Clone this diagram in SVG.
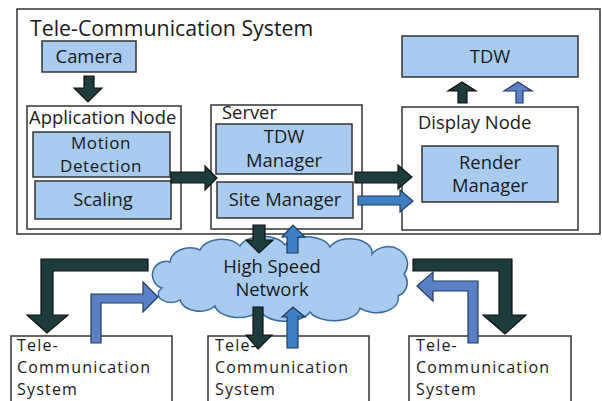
<svg xmlns="http://www.w3.org/2000/svg" width="602" height="401" viewBox="0 0 602 401">
<style>
text{font-family:"Open Sans","Liberation Sans",sans-serif;fill:#1a1a1a;font-size:18.4px}
.c{text-anchor:middle}
.sm{font-size:16px;letter-spacing:1.2px}
.md{font-size:17px;letter-spacing:0.6px}
.box{fill:#fff;stroke:#333;stroke-width:1.5}
.blue{fill:#a8cbef;stroke:#333;stroke-width:1.5}
.dk{fill:#1e3c3c;stroke:#111;stroke-width:1.2}
.bl{fill:#3f7fc4;stroke:#1e3c5c;stroke-width:1.2}
.pb{fill:#5b7fc4;stroke:#1e3c5c;stroke-width:1.2}
</style>
<rect width="602" height="401" fill="#fff"/>
<g id="tcs-main">
<rect class="box" x="17" y="9" width="583" height="225"/>
<text x="30" y="36" style="font-size:21.3px">Tele-Communication System</text>
</g>
<g id="camera">
<rect class="blue" x="42" y="41" width="94" height="31"/>
<text class="c" x="89" y="63">Camera</text>
</g>
<g id="app-node">
<rect class="box" x="27" y="106" width="154" height="123"/>
<text x="29" y="124">Application Node</text>
</g>
<g id="motion">
<rect class="blue" x="33" y="132" width="137" height="45"/>
<text class="c md" x="101" y="149">Motion</text>
<text class="c md" x="101" y="172">Detection</text>
</g>
<g id="scaling">
<rect class="blue" x="35" y="181" width="136" height="38"/>
<text class="c" x="103" y="206">Scaling</text>
</g>
<g id="server">
<rect class="box" x="211" y="105" width="151" height="124"/>
<text x="222" y="119">Server</text>
</g>
<g id="tdw-manager">
<rect class="blue" x="216" y="124" width="136" height="50"/>
<text class="c" x="284" y="143">TDW</text>
<text class="c" x="284" y="167">Manager</text>
</g>
<g id="site-manager">
<rect class="blue" x="217" y="182" width="136" height="36"/>
<text class="c" x="285" y="206">Site Manager</text>
</g>
<g id="display-node">
<rect class="box" x="402" y="107" width="176" height="123"/>
<text x="418" y="129">Display Node</text>
</g>
<g id="render-manager">
<rect class="blue" x="422" y="146" width="136" height="56"/>
<text class="c" x="490" y="169">Render</text>
<text class="c" x="490" y="192">Manager</text>
</g>
<g id="tdw">
<rect class="blue" x="402" y="36" width="176" height="41"/>
<text class="c" x="490" y="63">TDW</text>
</g>
<g id="network">
<path d="M162,288 A12,12 0 0 1 170,262 A20,16 0 0 1 200,250 A22,14 0 0 1 240,246 A24,14 0 0 1 285,245 A24,14 0 0 1 330,247 A22,14 0 0 1 372,254 A18,16 0 0 1 404,274 A14,14 0 0 1 398,296 A22,14 0 0 1 360,308 A26,14 0 0 1 310,312 A26,14 0 0 1 260,310 A24,14 0 0 1 215,306 A20,14 0 0 1 180,300 A12,8 0 0 1 162,288 Z" fill="#a8cbef" stroke="#3a6a9e" stroke-width="1.5"/>
<text class="c" x="272" y="273">High Speed</text>
<text class="c" x="272" y="296">Network</text>
</g>
<g id="tcs-left">
<rect class="box" x="11" y="336" width="161" height="80"/>
<text class="sm" x="17" y="351">Tele-</text>
<text class="sm" x="17" y="373">Communication</text>
<text class="sm" x="17" y="395">System</text>
</g>
<g id="tcs-mid">
<rect class="box" x="208" y="336" width="161" height="80"/>
<text class="sm" x="215" y="351">Tele-</text>
<text class="sm" x="215" y="373">Communication</text>
<text class="sm" x="215" y="395">System</text>
</g>
<g id="tcs-right">
<rect class="box" x="409" y="336" width="162" height="80"/>
<text class="sm" x="416" y="351">Tele-</text>
<text class="sm" x="416" y="373">Communication</text>
<text class="sm" x="416" y="395">System</text>
</g>
<g id="connectors">
<polygon class="dk" points="84,76 94,76 94,88 102,88 88,102 74,88 84,88"/>
<polygon class="dk" points="171,172 205,172 205,166 217,178 205,190 205,183 171,183"/>
<polygon class="dk" points="355,172 398,172 398,165 412,177 398,189 398,183 355,183"/>
<polygon class="bl" points="358,196 400,196 400,190 413,201 400,212 400,205 358,205"/>
<polygon class="dk" points="458,103 458,91 448,91 462,82 476,91 467,91 467,103"/>
<polygon class="pb" points="516,103 516,91 504,91 518,82 532,91 523,91 523,103"/>
<polygon class="dk" points="253,225 265,225 265,240 273,240 259,253 246,240 253,240"/>
<polygon class="bl" points="287,253 287,237 282,237 293,225 305,237 298,237 298,253"/>
<polygon class="dk" points="253,307 263,307 263,335 272,335 258,349 246,335 253,335"/>
<polygon class="bl" points="287,348 287,317 282,317 293,307 305,317 298,317 298,348"/>
<polygon class="dk" points="148,259 148,271 53,271 53,315 68,315 47,333 27,315 41,315 41,259"/>
<polygon class="pb" points="91,343 91,294 143,294 143,282 158,297 143,312 143,303 101,303 101,343"/>
<polygon class="dk" points="413,259 512,259 512,315 526,315 505,334 483,315 499,315 499,271 413,271"/>
<polygon class="pb" points="478,343 478,281 433,281 433,272 417,286 433,301 433,291 468,291 468,343"/>
</g>
</svg>
